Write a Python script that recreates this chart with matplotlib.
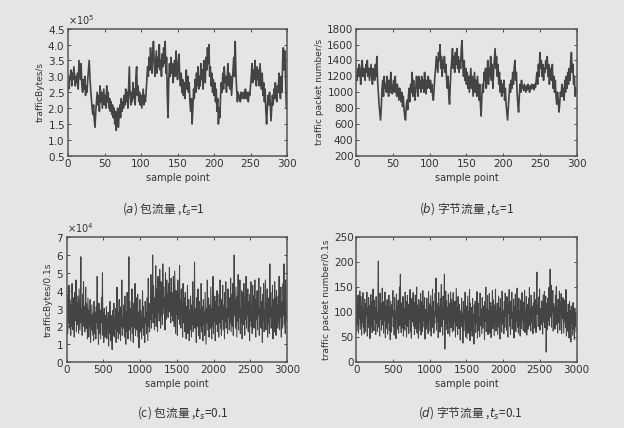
import numpy as np
import matplotlib
matplotlib.use("Agg")
import matplotlib.pyplot as plt
from matplotlib.ticker import ScalarFormatter

plt.rcParams["font.family"] = ["DejaVu Sans"]
plt.rcParams["mathtext.fontset"] = "dejavusans"

# (a) bytes per second, x1e5, 300 samples
bytes_1s = [
    2.8, 2.6, 3.0, 2.9, 3.2, 2.7, 3.1, 2.9, 3.3, 3.0,
    2.7, 3.0, 2.8, 3.1, 2.6, 3.5, 3.2, 2.9, 3.4, 2.7,
    2.5, 2.9, 2.6, 3.0, 2.4, 2.7, 2.5, 2.9, 3.2, 3.5,
    3.0, 2.6, 2.3, 2.0, 1.8, 2.1, 1.6, 1.4, 1.9, 2.2,
    2.5, 2.1, 2.4, 1.9, 2.7, 2.2, 2.5, 2.0, 2.3, 2.6,
    2.1, 2.4, 2.0, 2.7, 2.2, 2.5, 2.0, 2.3, 1.9, 2.2,
    1.8, 2.1, 1.7, 2.0, 1.5, 1.9, 1.3, 1.6, 2.0, 1.4,
    1.8, 2.1, 1.7, 2.3, 1.9, 2.2, 2.0, 2.4, 2.1, 2.6,
    2.2, 2.5, 2.0, 2.7, 3.3, 2.4, 2.1, 2.5, 2.2, 2.8,
    2.3, 2.6, 2.1, 3.0, 3.3, 2.4, 2.7, 2.2, 2.5, 2.1,
    2.4, 2.0, 2.3, 2.6, 2.1, 2.4, 2.2, 2.5, 2.9, 3.3,
    3.0, 3.6, 3.2, 3.9, 3.4, 3.1, 3.7, 4.1, 3.5, 3.0,
    3.4, 3.8, 3.1, 3.6, 3.3, 4.0, 3.2, 3.5, 3.0, 3.7,
    3.3, 3.9, 3.4, 4.1, 3.1, 3.6, 2.4, 1.7, 2.9, 3.4,
    3.0, 3.6, 3.1, 3.4, 2.8, 3.2, 3.5, 3.0, 3.8, 3.3,
    2.9, 3.4, 3.7, 3.0, 2.7, 3.1, 2.5, 2.9, 2.4, 2.8,
    2.3, 2.7, 3.2, 2.6, 3.0, 2.5, 2.8, 2.2, 1.9, 2.3,
    1.5, 2.0, 2.6, 2.3, 2.9, 2.5, 3.1, 2.7, 3.3, 2.6,
    3.0, 2.7, 3.4, 2.9, 3.2, 2.6, 3.5, 3.1, 2.8, 3.6,
    3.2, 3.9, 3.4, 4.0, 3.0, 3.3, 2.7, 3.1, 2.5, 2.9,
    2.4, 2.8, 2.2, 2.6, 1.9, 2.3, 1.5, 2.0, 1.7, 2.4,
    2.8, 2.5, 3.1, 2.6, 3.3, 2.8, 3.0, 2.5, 2.9, 3.4,
    2.7, 3.1, 2.6, 3.0, 2.4, 2.8, 3.2, 3.6, 3.0, 4.1,
    3.1, 2.6, 2.2, 2.5, 2.3, 2.4, 2.2, 2.5, 2.3, 2.4,
    2.5, 2.3, 2.4, 2.6, 2.3, 2.5, 2.4, 2.2, 2.5, 2.4,
    2.7, 3.0, 3.4, 2.8, 3.2, 2.9, 3.5, 3.0, 2.7, 3.3,
    2.9, 3.2, 2.7, 3.4, 3.0, 2.6, 3.1, 2.4, 2.8, 2.2,
    2.6, 1.9, 1.5, 2.0, 2.4, 2.1, 2.5, 2.2, 1.6, 2.0,
    2.4, 2.1, 2.6, 2.3, 2.8, 2.4, 2.2, 2.7, 2.5, 3.1,
    2.6, 2.3, 3.0, 2.5, 3.5, 3.9, 3.2, 3.8, 2.9, 2.0,
]

# (b) packets per second, 300 samples
packets_1s = [
    1250, 1150, 1300, 1200, 1350, 1250, 1100, 1300, 1400, 1200,
    1300, 1250, 1150, 1350, 1250, 1400, 1200, 1300, 1150, 1250,
    1350, 1200, 1100, 1300, 1250, 1150, 1350, 1200, 1450, 1150,
    1000, 850, 750, 650, 800, 1050, 1150, 950, 1200, 1050,
    1100, 1000, 1200, 1050, 950, 1150, 1000, 1250, 1100, 980,
    1050, 1150, 1000, 1200, 1050, 950, 1100, 1000, 900, 1050,
    950, 880, 1000, 820, 950, 780, 700, 650, 820, 900,
    780, 950, 1050, 880, 1100, 1000, 1250, 950, 1150, 1000,
    900, 1050, 1200, 1100, 950, 1200, 1050, 1150, 1000, 1200,
    1050, 1150, 1000, 1250, 1100, 980, 1150, 1050, 1200, 1100,
    1050, 1150, 1000, 1100, 950, 900, 1050, 1200, 1300, 1450,
    1350, 1250, 1500, 1400, 1600, 1300, 1450, 1200, 1400, 1300,
    1450, 1250, 1350, 1150, 1050, 1200, 950, 850, 1100, 1300,
    1400, 1550, 1300, 1450, 1250, 1500, 1350, 1550, 1300, 1450,
    1250, 1400, 1300, 1550, 1650, 1350, 1200, 1400, 1150, 1300,
    1100, 1250, 1050, 1200, 1000, 1150, 1300, 1050, 1200, 950,
    1100, 1250, 1000, 1150, 950, 1200, 1050, 900, 1100, 850,
    700, 950, 1100, 1000, 1250, 1150, 1300, 1050, 1200, 1400,
    1100, 1300, 1200, 1450, 1150, 1350, 1050, 1250, 1400, 1550,
    1300, 1450, 1200, 1350, 1100, 1250, 1000, 1150, 950, 1100,
    1000, 1150, 900, 1050, 850, 750, 650, 800, 950, 1100,
    1000, 1150, 1050, 1250, 1100, 1300, 1400, 1150, 1250, 1000,
    850, 750, 950, 1100, 1000, 1150, 1050, 1080, 1020, 1100,
    1050, 1000, 1080, 1030, 1100, 1060, 1000, 1080, 1040, 1100,
    1050, 1090, 1030, 1100, 1060, 1150, 1250, 1100, 1350, 1200,
    1500, 1300, 1400, 1200, 1350, 1150, 1300, 1250, 1400, 1300,
    1450, 1200, 1350, 1100, 1300, 1250, 1150, 1350, 1050, 1200,
    1000, 1150, 950, 850, 1000, 900, 750, 850, 1000, 950,
    1100, 950, 1050, 900, 1150, 1000, 1200, 1050, 1250, 1100,
    1300, 1150, 1400, 1500, 1250, 1350, 1100, 1200, 950, 1050,
]

# (c) bytes per 0.1 s, x1e4, read every 6th sample
bytes_01s = [
    2.4, 3.8, 1.6, 3.1, 2.2, 4.3, 1.9, 3.5, 2.7, 1.5,
    3.2, 2.0, 4.4, 2.6, 1.8, 3.6, 2.9, 1.4, 3.9, 2.3,
    2.8, 4.6, 1.7, 3.3, 2.1, 3.7, 2.5, 1.6, 4.1, 2.9,
    1.8, 3.4, 5.9, 2.2, 3.0, 1.5, 3.8, 2.4, 4.5, 2.0,
    3.1, 1.7, 2.7, 4.2, 1.9, 3.3, 2.4, 1.3, 3.6, 2.6,
    1.4, 2.9, 2.0, 3.5, 1.1, 2.6, 1.8, 3.2, 2.3, 1.5,
    2.7, 1.2, 3.4, 2.0, 1.6, 2.8, 1.3, 3.1, 2.2, 4.8,
    1.9, 2.5, 1.0, 3.3, 2.1, 1.6, 2.9, 1.3, 2.4, 3.6,
    2.2, 5.0, 1.5, 2.7, 1.1, 3.0, 2.0, 1.4, 2.6, 1.8,
    3.1, 1.3, 2.4, 1.9, 2.8, 0.9, 2.3, 1.6, 3.4, 2.0,
    1.2, 2.6, 1.8, 0.7, 2.9, 1.5, 2.2, 3.3, 1.4, 2.5,
    1.9, 3.0, 1.1, 2.4, 4.2, 1.7, 2.8, 1.3, 2.1, 3.5,
    1.6, 2.7, 1.2, 3.1, 2.0, 4.6, 1.5, 2.5, 1.9, 3.2,
    2.3, 1.4, 3.7, 2.1, 1.0, 2.8, 1.7, 3.9, 2.2, 1.3,
    2.9, 5.9, 1.8, 3.4, 2.4, 1.2, 3.0, 2.0, 4.1, 1.6,
    2.6, 1.1, 3.3, 1.9, 2.7, 4.4, 1.5, 2.3, 3.6, 1.8,
    2.1, 3.8, 1.4, 2.8, 0.8, 2.4, 3.5, 1.7, 2.9, 2.0,
    1.3, 2.6, 4.0, 1.9, 3.1, 1.5, 2.5, 1.1, 3.4, 2.2,
    2.8, 1.6, 3.6, 2.3, 1.2, 4.7, 2.0, 2.9, 1.7, 3.3,
    2.4, 4.9, 1.9, 3.8, 2.7, 6.0, 2.2, 4.3, 3.1, 1.8,
    3.6, 2.5, 5.4, 2.0, 4.1, 3.0, 1.7, 4.8, 2.8, 3.7,
    2.3, 5.2, 3.3, 1.9, 4.5, 2.6, 3.9, 2.1, 5.5, 3.0,
    4.2, 2.7, 3.6, 1.8, 5.0, 3.2, 2.4, 4.6, 2.9, 3.8,
    2.5, 4.4, 3.0, 5.3, 2.8, 3.9, 2.2, 4.7, 3.4, 2.6,
    3.9, 2.3, 4.8, 3.1, 2.0, 5.1, 3.5, 1.6, 4.0, 2.7,
    3.3, 1.5, 4.6, 2.4, 3.8, 2.9, 5.4, 2.1, 3.5, 1.9,
    4.1, 2.6, 3.2, 1.4, 4.4, 2.2, 3.6, 2.8, 1.7, 3.9,
    2.4, 1.3, 3.1, 2.0, 4.3, 1.6, 2.7, 3.5, 1.2, 2.9,
    1.8, 3.7, 2.5, 1.4, 3.2, 2.1, 4.5, 1.7, 2.8, 2.2,
    5.6, 1.9, 3.0, 2.4, 1.1, 3.6, 2.0, 2.7, 4.1, 1.5,
    2.6, 3.4, 1.3, 2.9, 2.0, 4.4, 1.7, 3.1, 2.3, 1.2,
    3.5, 2.1, 2.8, 1.5, 3.9, 2.4, 1.0, 3.0, 2.2, 4.6,
    1.8, 2.7, 3.6, 1.4, 2.5, 3.2, 1.9, 4.2, 2.6, 1.3,
    3.0, 2.0, 4.8, 1.6, 2.9, 2.3, 3.7, 1.2, 2.7, 3.4,
    2.1, 4.0, 1.7, 3.1, 2.5, 1.4, 3.8, 2.2, 4.6, 1.9,
    2.9, 1.5, 3.5, 2.4, 4.3, 1.8, 2.6, 3.2, 1.3, 3.9,
    2.3, 4.5, 1.9, 3.0, 2.7, 1.6, 4.1, 2.5, 3.4, 1.8,
    3.6, 2.2, 4.7, 1.7, 2.9, 3.8, 2.0, 4.4, 1.5, 3.1,
    6.0, 2.6, 3.5, 1.9, 4.2, 2.8, 1.4, 3.7, 2.3, 4.9,
    1.8, 3.3, 2.5, 4.6, 1.6, 3.0, 2.2, 4.0, 1.3, 2.8,
    3.9, 2.1, 4.4, 2.7, 1.5, 3.6, 2.4, 4.8, 1.9, 3.2,
    2.6, 4.1, 1.7, 3.4, 2.9, 1.2, 3.8, 2.3, 4.5, 2.0,
    3.1, 1.6, 4.3, 2.5, 3.7, 1.9, 2.8, 4.6, 2.2, 1.4,
    3.5, 2.4, 4.0, 1.8, 3.2, 2.6, 4.7, 1.5, 3.0, 2.1,
    4.2, 1.9, 3.4, 2.7, 1.1, 3.8, 2.3, 4.4, 1.7, 2.9,
    2.4, 4.6, 1.8, 3.3, 2.6, 4.1, 1.4, 3.6, 2.2, 3.0,
    1.6, 5.5, 2.5, 3.9, 1.9, 3.1, 2.7, 4.3, 1.3, 3.5,
    2.8, 1.7, 4.5, 2.3, 3.6, 1.5, 4.0, 2.6, 3.2, 1.9,
    3.7, 2.2, 4.8, 1.8, 3.0, 2.5, 4.2, 1.4, 3.4, 2.7,
    1.9, 4.4, 2.6, 5.5, 2.1, 3.8, 1.6, 4.6, 2.9, 2.3,
]

# (d) packets per 0.1 s, read every 6th sample
packets_01s = [
    150, 62, 118, 75, 134, 58, 101, 88, 142, 66,
    95, 131, 54, 112, 80, 139, 70, 104, 57, 126,
    84, 61, 117, 93, 140, 52, 108, 76, 129, 68,
    113, 47, 98, 135, 72, 120, 59, 91, 146, 79,
    63, 124, 86, 108, 55, 131, 77, 99, 61, 118,
    202, 70, 106, 52, 138, 85, 117, 64, 95, 148,
    74, 121, 58, 102, 83, 140, 49, 113, 90, 67,
    125, 56, 97, 80, 134, 63, 110, 45, 122, 88,
    60, 115, 92, 143, 71, 103, 54, 129, 78, 101,
    47, 136, 85, 112, 66, 124, 58, 97, 150, 73,
    176, 82, 59, 118, 95, 68, 131, 52, 107, 89,
    64, 140, 76, 121, 50, 98, 133, 71, 116, 57,
    103, 86, 145, 62, 111, 48, 127, 80, 96, 139,
    72, 119, 55, 101, 134, 67, 92, 150, 58, 114,
    88, 48, 125, 79, 107, 63, 138, 54, 99, 121,
    61, 143, 84, 112, 70, 129, 46, 105, 90, 66,
    128, 75, 99, 57, 141, 83, 116, 62, 95, 133,
    52, 110, 87, 146, 69, 121, 58, 100, 78, 137,
    91, 168, 64, 118, 82, 104, 49, 139, 73, 111,
    60, 127, 95, 155, 71, 108, 54, 132, 86, 119,
    176, 26, 101, 142, 78, 123, 65, 110, 57, 136,
    84, 117, 52, 98, 140, 69, 125, 88, 60, 113,
    139, 63, 104, 81, 122, 50, 96, 147, 72, 109,
    55, 131, 86, 67, 115, 93, 44, 102, 76, 128,
    70, 97, 38, 121, 62, 105, 83, 140, 51, 92,
    112, 47, 89, 132, 58, 100, 74, 145, 43, 118,
    64, 109, 85, 52, 127, 71, 96, 36, 114, 80,
    122, 59, 103, 77, 141, 48, 92, 118, 63, 88,
    51, 138, 73, 106, 84, 57, 129, 68, 99, 112,
    94, 45, 121, 82, 150, 61, 107, 76, 133, 55,
    103, 72, 137, 58, 96, 119, 49, 110, 86, 143,
    67, 125, 90, 53, 114, 78, 146, 62, 101, 84,
    118, 55, 98, 132, 70, 109, 46, 127, 81, 95,
    60, 142, 76, 104, 88, 57, 121, 69, 138, 92,
    109, 64, 131, 83, 50, 116, 97, 145, 72, 103,
    55, 122, 87, 140, 66, 99, 79, 126, 48, 111,
    93, 136, 61, 105, 82, 148, 70, 117, 58, 128,
    74, 100, 52, 124, 91, 67, 139, 84, 109, 63,
    120, 78, 143, 59, 102, 88, 131, 54, 115, 97,
    66, 127, 85, 149, 73, 106, 62, 134, 80, 112,
    101, 57, 118, 92, 140, 68, 125, 83, 59, 137,
    180, 95, 113, 71, 130, 87, 146, 64, 107, 90,
    75, 122, 98, 56, 135, 103, 79, 141, 69, 116,
    132, 20, 94, 118, 65, 128, 84, 149, 73, 107,
    186, 90, 154, 70, 124, 99, 143, 62, 117, 85,
    110, 66, 133, 92, 151, 75, 109, 58, 126, 97,
    79, 142, 64, 118, 96, 137, 57, 113, 88, 129,
    95, 58, 124, 81, 107, 69, 145, 52, 100, 84,
    62, 116, 91, 48, 121, 73, 103, 40, 112, 77,
    100, 54, 119, 66, 92, 45, 108, 71, 96, 60,
]

ylabels = ["trafficBytes/s", "traffic packet number/s",
           "trafficBytes/0.1s", "traffic packet number/0.1s"]
captions = [r"($a$) 包流量 ,$t_s$=1", r"($b$) 字节流量 ,$t_s$=1",
            r"(c) 包流量 ,$t_s$=0.1", r"($d$) 字节流量 ,$t_s$=0.1"]

BG = "#e5e5e3"
INK = "#333333"
LINE = "#444444"

fig = plt.figure(figsize=(6.24, 4.28), dpi=100, facecolor=BG)

boxes = [
    (0.109, 0.636, 0.351, 0.297),
    (0.571, 0.636, 0.353, 0.297),
    (0.107, 0.154, 0.353, 0.292),
    (0.571, 0.154, 0.353, 0.292),
]

series = [
    (np.arange(len(bytes_1s)), np.array(bytes_1s) * 1e5),
    (np.arange(len(packets_1s)), np.array(packets_1s)),
    (np.arange(len(bytes_01s)) * 6, np.array(bytes_01s) * 1e4),
    (np.arange(len(packets_01s)) * 6, np.array(packets_01s)),
]

limits = [
    ((0, 300), (0.5e5, 4.5e5), np.arange(0, 301, 50), np.arange(0.5e5, 4.51e5, 0.5e5)),
    ((0, 300), (200, 1800), np.arange(0, 301, 50), np.arange(200, 1801, 200)),
    ((0, 3000), (0, 7e4), np.arange(0, 3001, 500), np.arange(0, 7.01e4, 1e4)),
    ((0, 3000), (0, 250), np.arange(0, 3001, 500), np.arange(0, 251, 50)),
]

for i, (box, (x, y), (xl, yl, xt, yt)) in enumerate(zip(boxes, series, limits)):
    ax = fig.add_axes(box, facecolor=BG)
    ax.plot(x, y, color=LINE, lw=1.2 if i < 2 else 0.75)
    ax.set_xlim(*xl)
    ax.set_ylim(*yl)
    ax.set_xticks(xt)
    ax.set_yticks(yt)
    if i in (0, 2):
        fmt = ScalarFormatter(useMathText=True)
        fmt.set_powerlimits((0, 0))
        ax.yaxis.set_major_formatter(fmt)
        ax.yaxis.get_offset_text().set_fontsize(7)
        ax.yaxis.get_offset_text().set_color(INK)
    ax.tick_params(direction="in", length=2.5, width=0.6, labelsize=7.5,
                   colors=INK, top=True, right=True, pad=2)
    for sp in ax.spines.values():
        sp.set_color("#555555")
        sp.set_linewidth(1.1)
    ax.set_xlabel("sample point", fontsize=7, color=INK, labelpad=3)
    ax.set_ylabel(ylabels[i], fontsize=6.5, color=INK, labelpad=2)

caption_pos = [(0.262, 0.512), (0.748, 0.512), (0.293, 0.037), (0.753, 0.037)]
for (cx, cy), txt in zip(caption_pos, captions):
    fig.text(cx, cy, txt, ha="center", va="center", fontsize=8.5, color=INK,
             family=["Noto Sans CJK SC", "DejaVu Sans"])

fig.savefig("out.png", dpi=100, facecolor=BG)
